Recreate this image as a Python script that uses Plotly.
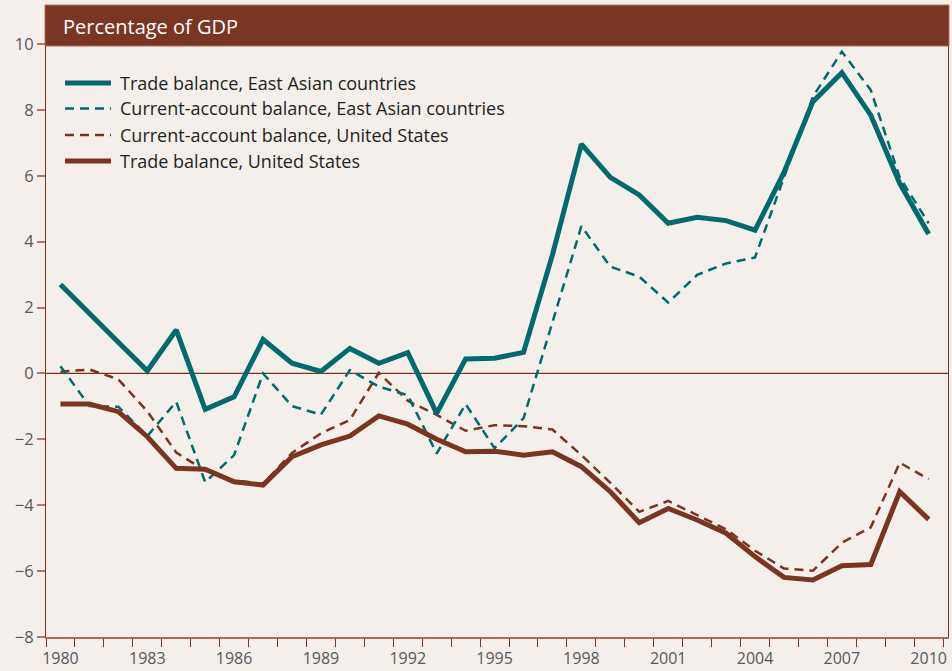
import plotly.graph_objects as go

years = list(range(1980, 2011))
tick_years = [1980, 1983, 1986, 1989, 1992, 1995, 1998, 2001, 2004, 2007, 2010]
y_ticks = [-8, -6, -4, -2, 0, 2, 4, 6, 8, 10]

ea_trade = [2.7, 1.8, 0.95, 0.08, 1.32, -1.09, -0.71, 1.03, 0.31, 0.06,
            0.76, 0.31, 0.63, -1.21, 0.44, 0.46, 0.64, 3.6, 6.96, 5.95,
            5.42, 4.56, 4.74, 4.64, 4.35, 6.1, 8.25, 9.13, 7.84, 5.77, 4.23]
ea_ca = [0.22, -0.99, -1.01, -1.9, -0.86, -3.3, -2.48, 0.0, -0.99, -1.25,
         0.1, -0.4, -0.66, -2.43, -0.93, -2.27, -1.36, 1.55, 4.47, 3.24,
         2.94, 2.15, 2.99, 3.34, 3.52, 5.95, 8.4, 9.77, 8.6, 5.95, 4.56]
us_ca = [0.05, 0.12, -0.18, -1.15, -2.4, -2.95, -3.25, -3.35, -2.41, -1.82,
         -1.41, 0.02, -0.83, -1.26, -1.74, -1.57, -1.6, -1.7, -2.48, -3.32,
         -4.2, -3.87, -4.3, -4.73, -5.38, -5.92, -5.99, -5.14, -4.67, -2.71, -3.21]
us_trade = [-0.93, -0.93, -1.16, -1.92, -2.88, -2.91, -3.29, -3.39, -2.53, -2.17,
            -1.9, -1.29, -1.54, -2.0, -2.38, -2.36, -2.48, -2.38, -2.83, -3.59,
            -4.53, -4.1, -4.45, -4.85, -5.56, -6.19, -6.27, -5.84, -5.8, -3.59, -4.43]

names = ["Trade balance, East Asian countries",
         "Current-account balance, East Asian countries",
         "Current-account balance, United States",
         "Trade balance, United States"]

TEAL = "#006b6d"
BROWN = "#7a3520"
BG = "#f4efeb"
DASH = "9px,6px"

W, H = 952, 671
L, R, T, B = 46, 4, 44, 34
PW = W - L - R
PH = H - T - B


def px(xp):
    return (xp - L) / PW


def py(yp):
    return (H - B - yp) / PH


series = [
    (names[2], us_ca, BROWN, 2.5, DASH),
    (names[1], ea_ca, TEAL, 2.5, DASH),
    (names[3], us_trade, BROWN, 5, "solid"),
    (names[0], ea_trade, TEAL, 5, "solid"),
]

fig = go.Figure()
for name, vals, col, w, dash in series:
    fig.add_trace(go.Scatter(x=years, y=vals, mode="lines", name=name,
                             line=dict(color=col, width=w, dash=dash),
                             showlegend=False))

shapes = []
annotations = []
# header bar
shapes.append(dict(type="rect", xref="paper", yref="paper",
                   x0=px(45), x1=px(949), y0=py(46), y1=py(5),
                   fillcolor="#7b3621", line=dict(color="#a8705e", width=1), layer="above"))
annotations.append(dict(text="Percentage of GDP", xref="paper", yref="paper",
                        x=px(61), y=py(26), xanchor="left", yanchor="middle",
                        showarrow=False, font=dict(family="Open Sans", size=20, color="white")))
# zero line
shapes.append(dict(type="line", xref="paper", yref="y", x0=0, x1=1, y0=0, y1=0,
                   line=dict(color=BROWN, width=1.2), layer="below"))

# manual legend
legend_rows = [(names[0], TEAL, 5, "solid"), (names[1], TEAL, 2.5, DASH),
               (names[2], BROWN, 2.5, DASH), (names[3], BROWN, 5, "solid")]
row_y = [83, 108.5, 135, 161]
for (nm, col, w, dash), yy in zip(legend_rows, row_y):
    shapes.append(dict(type="line", xref="paper", yref="paper",
                       x0=px(65), x1=px(111), y0=py(yy), y1=py(yy),
                       line=dict(color=col, width=w, dash=dash)))
    annotations.append(dict(text=nm, xref="paper", yref="paper", x=px(118), y=py(yy),
                            xanchor="left", yanchor="middle", showarrow=False,
                            font=dict(family="Open Sans", size=18, color="#231f20")))

fig.update_layout(
    width=W, height=H,
    margin=dict(l=L, r=R, t=T, b=B, autoexpand=False),
    paper_bgcolor=BG, plot_bgcolor=BG,
    shapes=shapes, annotations=annotations,
    showlegend=False,
    xaxis=dict(range=[1979.5, 1979.5 + PW / 28.94], tickvals=tick_years,
               ticktext=[str(t) for t in tick_years], automargin=False,
               ticks="outside", ticklen=6, tickcolor="rgba(0,0,0,0)",
               ticklabelstandoff=0,
               tickfont=dict(family="Open Sans", size=16, color="#58595b"),
               showgrid=False, zeroline=False,
               showline=True, linecolor="#a86e5c", linewidth=2,
               minor=dict(tick0=1979.5, dtick=1, ticks="outside", ticklen=8,
                          tickcolor=BROWN, tickwidth=1, showgrid=False)),
    yaxis=dict(range=[-8, 10], tickvals=y_ticks, ticks="outside", ticklen=8,
               tickcolor="#b07a66", tickwidth=1.5, automargin=False,
               tickfont=dict(family="Open Sans", size=16.5, color="#58595b"),
               showgrid=False, zeroline=False,
               showline=True, linecolor=BROWN, linewidth=1.2, mirror=True),
)

fig.write_html("out.html", config={"displayModeBar": False},
               post_script="document.body.style.margin='0';")
